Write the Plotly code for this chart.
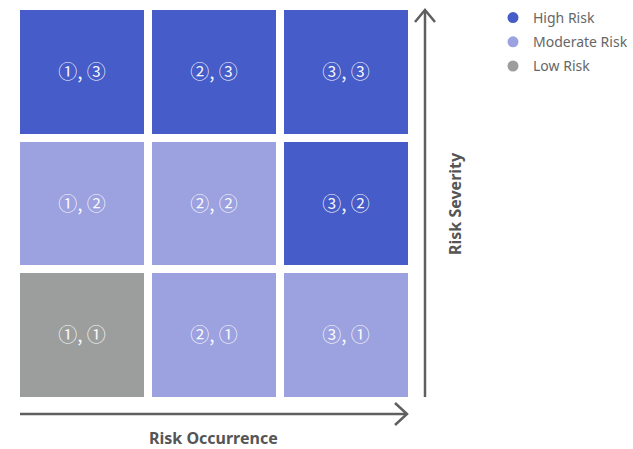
import plotly.graph_objects as go

# Risk matrix: columns = occurrence level, rows = severity level
occurrence = [1, 2, 3]
severity = [1, 2, 3]
occurrence_marks = ["①", "②", "③"]
severity_marks = ["①", "②", "③"]

# Risk class per cell (row = severity 1..3, column = occurrence 1..3)
# 0 = Low, 1 = Moderate, 2 = High
risk_class = [
    [0, 1, 1],
    [1, 1, 2],
    [2, 2, 2],
]
legend_names = ["High Risk", "Moderate Risk", "Low Risk"]
class_colors = {0: "#9c9e9d", 1: "#9ca1e0", 2: "#465cc8"}

cell_text = [[f"{occurrence_marks[c]}, {severity_marks[r]}" for c in range(3)] for r in range(3)]

# Figure size and the pixel box of the matrix
W, H = 633, 449
X0, X1, Y0, Y1 = 16, 412, 6, 401


def px(x):
    return x / W


def py(y):
    return (H - y) / H


fig = go.Figure()

fig.add_trace(go.Heatmap(
    x=occurrence, y=severity, z=risk_class,
    zmin=0, zmax=2,
    colorscale=[[0, class_colors[0]], [0.333, class_colors[0]],
                [0.333, class_colors[1]], [0.667, class_colors[1]],
                [0.667, class_colors[2]], [1, class_colors[2]]],
    showscale=False, xgap=8, ygap=8,
    text=cell_text, texttemplate="%{text}",
    textfont=dict(family="Noto Sans CJK KR", size=19, color="rgba(255,255,255,0.95)"),
    hoverinfo="skip",
))

# Legend entries
for name, cls in zip(legend_names, [2, 1, 0]):
    fig.add_trace(go.Scatter(
        x=[None], y=[None], mode="markers", name=name, legendgroup=name,
        marker=dict(symbol="circle", size=11, color=class_colors[cls]),
    ))

axis_color = "#5f5f5f"
shapes = [
    # vertical axis arrow
    dict(type="line", xref="paper", yref="paper", x0=px(425), x1=px(425), y0=py(397), y1=py(11),
         line=dict(color=axis_color, width=2.5)),
    dict(type="path", xref="paper", yref="paper",
         path=f"M {px(415)} {py(22)} L {px(425)} {py(10)} L {px(435)} {py(22)}",
         line=dict(color=axis_color, width=2.5)),
    # horizontal axis arrow
    dict(type="line", xref="paper", yref="paper", x0=px(20), x1=px(406), y0=py(414), y1=py(414),
         line=dict(color=axis_color, width=2.5)),
    dict(type="path", xref="paper", yref="paper",
         path=f"M {px(395)} {py(403)} L {px(407)} {py(414)} L {px(395)} {py(425)}",
         line=dict(color=axis_color, width=2.5)),
]

annotations = [
    dict(text="<b>Risk Occurrence</b>", xref="paper", yref="paper", x=px(214), y=py(438),
         xanchor="center", yanchor="middle",
         showarrow=False, font=dict(family="Noto Sans", size=16, color="#555555")),
    dict(text="<b>Risk Severity</b>", xref="paper", yref="paper", x=px(455), y=py(203),
         xanchor="center", yanchor="middle",
         showarrow=False, textangle=-90, font=dict(family="Noto Sans", size=16, color="#555555")),
]

fig.update_layout(
    width=W, height=H,
    margin=dict(l=0, r=0, t=0, b=0),
    paper_bgcolor="white", plot_bgcolor="white",
    xaxis=dict(domain=[px(X0), px(X1)], range=[0.5, 3.5], showgrid=False, zeroline=False,
               showticklabels=False, fixedrange=True),
    yaxis=dict(domain=[py(Y1), py(Y0)], range=[0.5, 3.5], showgrid=False, zeroline=False,
               showticklabels=False, fixedrange=True),
    shapes=shapes, annotations=annotations,
    showlegend=True,
    legend=dict(x=px(493), y=py(2), xanchor="left", yanchor="top",
                font=dict(family="Noto Sans", size=14, color="#666666"),
                itemwidth=30, tracegroupgap=3, bgcolor="rgba(0,0,0,0)"),
)

fig.write_html("out.html")
